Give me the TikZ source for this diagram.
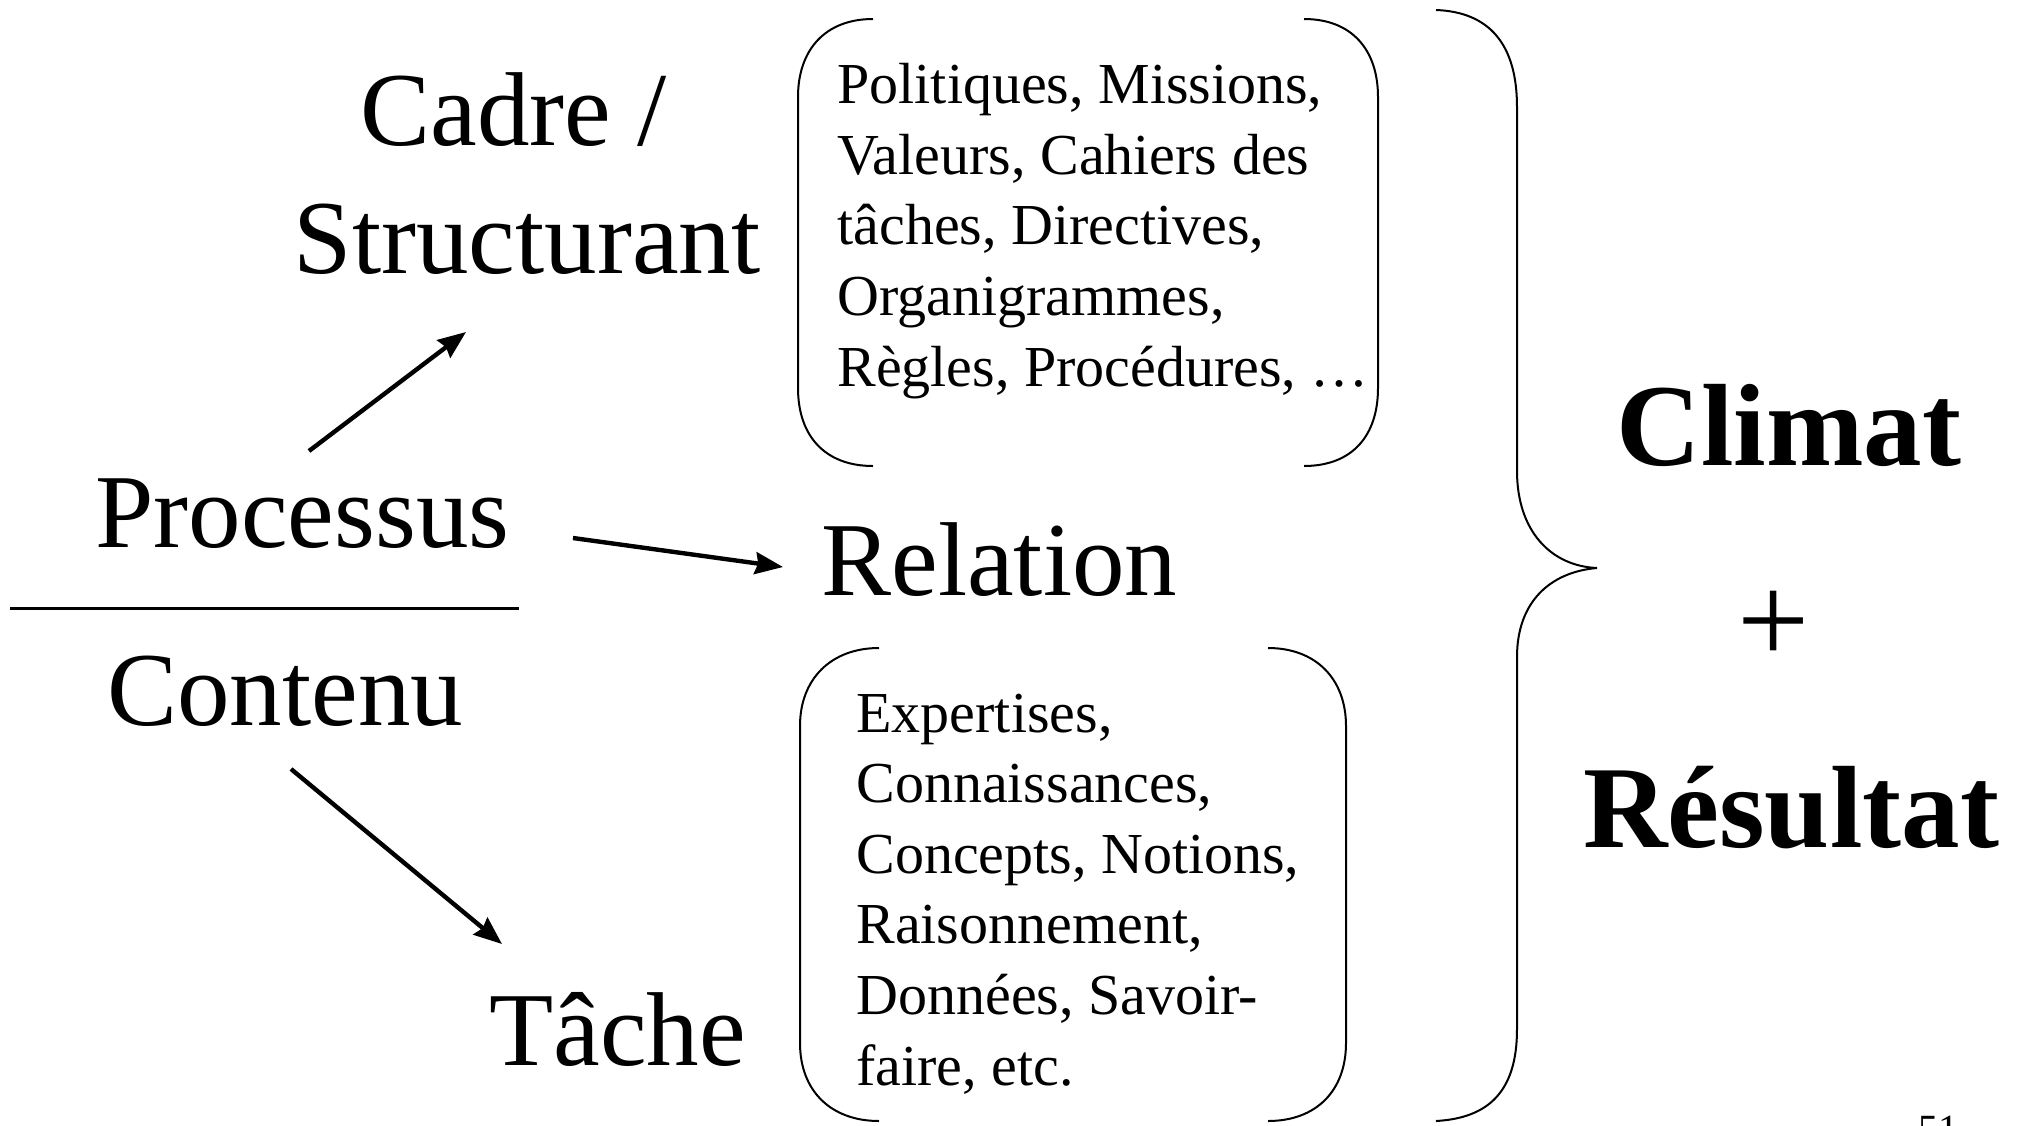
\documentclass[tikz,border=0pt]{standalone}
\usepackage{fontspec}
\setmainfont{Liberation Serif}
\usetikzlibrary{arrows.meta}
\begin{document}
\begin{tikzpicture}[x=0.5pt,y=-0.5pt,
  big/.style={font=\fontsize{52.5}{63.75}\selectfont, inner sep=0pt},
  small/.style={font=\fontsize{29}{35.3}\selectfont, inner sep=0pt, align=left, anchor=base west},
  boldtxt/.style={font=\fontsize{58.5}{70}\selectfont\bfseries, inner sep=0pt, anchor=base},
  conn/.style={line width=2.2pt, -{Stealth[length=14pt,width=11pt,inset=1.5pt]}},
  bracket/.style={line width=1pt},
]
\useasboundingbox (0,0) rectangle (2019,1125);

% main labels (multi-line nodes: base = last line)
\node[big, align=center, anchor=base] (cadre) at (527,273) {Cadre /\kern0.25em\\Structurant};
\node[big, anchor=base west] (proc) at (95,547) {Processus};
\node[big, anchor=base west] (cont) at (107,725) {Contenu};
\node[big, anchor=base west] (rel) at (821,595) {Relation};
\node[big, anchor=base west] (tache) at (489,1065) {Tâche};

% fraction rule
\coordinate (ruleL) at (10,608);
\coordinate (ruleR) at (519,608);
\draw[line width=1.5pt] (ruleL) -- (ruleR);

% arrows
\coordinate (a1s) at (309,451);
\coordinate (a1e) at (466,332);
\coordinate (a2s) at (573,538);
\coordinate (a2e) at (783,567);
\coordinate (a3s) at (291,769);
\coordinate (a3e) at (502,944);
\draw[conn] (a1s) -- (a1e);
\draw[conn] (a2s) -- (a2e);
\draw[conn] (a3s) -- (a3e);

% top bracket pair
\draw[bracket] (873,19) .. controls (825,19) and (798,50) .. (798,97) -- (798,388) .. controls (798,436) and (825,466) .. (873,466);
\draw[bracket] (1304,19) .. controls (1352,19) and (1378,50) .. (1378,97) -- (1378,388) .. controls (1378,436) and (1352,466) .. (1304,466);
\node[small] (cadretxt) at (837,386) {Politiques, Missions,\\Valeurs, Cahiers des\\tâches, Directives,\\Organigrammes,\\Règles, Procédures, \dots};

% bottom bracket pair
\draw[bracket] (879,648) .. controls (831,648) and (800,679) .. (800,726) -- (800,1043) .. controls (800,1091) and (831,1121) .. (879,1121);
\draw[bracket] (1268,648) .. controls (1316,648) and (1346,679) .. (1346,726) -- (1346,1043) .. controls (1346,1091) and (1316,1121) .. (1268,1121);
\node[small] (tachetxt) at (856,1085) {Expertises,\\Connaissances,\\Concepts, Notions,\\Raisonnement,\\Données, Savoir-\\faire, etc.};

% big brace
\draw[bracket] (1436,10) .. controls (1490,12) and (1517,45) .. (1517,107) -- (1517,471) .. controls (1517,530) and (1550,566) .. (1597,568)
  .. controls (1550,572) and (1517,602) .. (1517,657) -- (1517,1029) .. controls (1517,1090) and (1490,1118) .. (1436,1121);

% result
\node[boldtxt] (climat) at (1789,465) {Climat};
\node[font=\fontsize{64}{70}\selectfont, inner sep=0pt] (plus) at (1774,627) {+};
\node[boldtxt] (resultat) at (1791,847) {Résultat};

% page number (cut off at the lower edge, as in the slide)
\node[font=\fontsize{20}{24}\selectfont, inner sep=0pt, anchor=base west] (pg) at (1918,1142) {51};
\end{tikzpicture}
\end{document}
